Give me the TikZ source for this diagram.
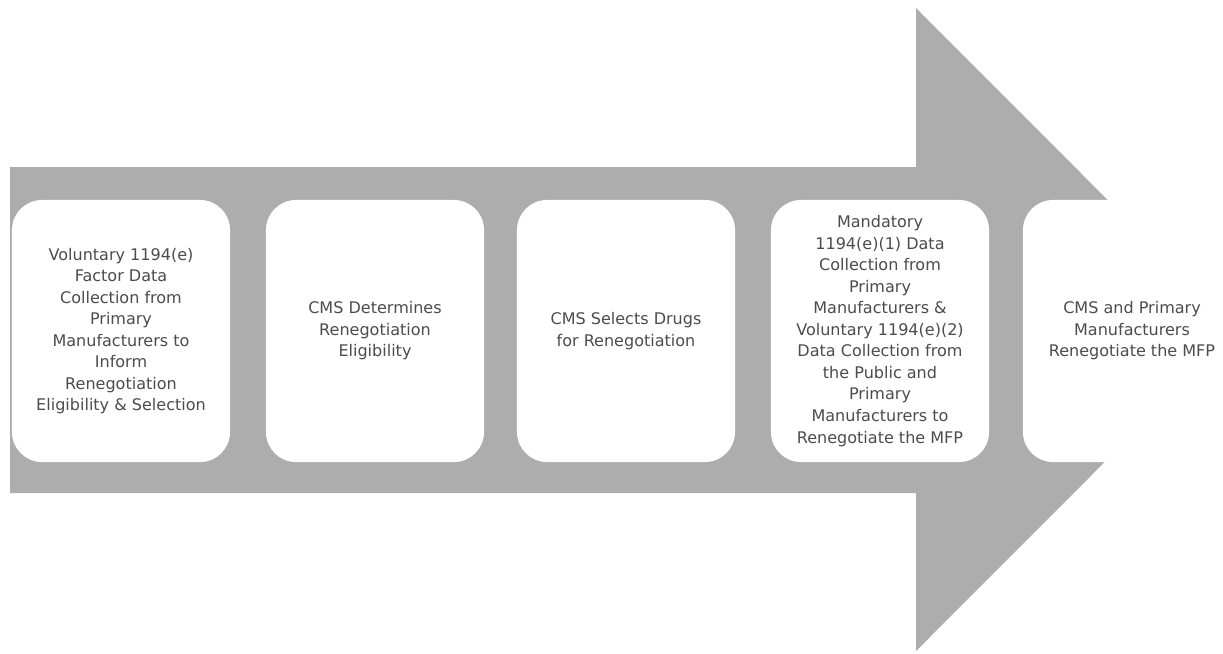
\documentclass[tikz,border=0pt]{standalone}
\usepackage{fontspec}
\setmainfont{DejaVu Sans}
\usepackage{tikz}

\begin{document}
\begin{tikzpicture}[x=0.025cm, y=-0.025cm,
    stagebox/.style={rectangle, rounded corners=0.75cm, fill=white, minimum width=5.45cm, minimum height=6.55cm, align=center, text=black!70, font=\fontsize{11.4}{15.3}\selectfont}]
                  % Frame
                  \path[use as bounding box, clip] (0,0) rectangle (1223,653);

                  % Arrow
                  \fill[black!32] (10,167) -- (916,167) -- (916,8) -- (1237,329.5) -- (916,651) -- (916,493) -- (10,493) -- cycle;

                  % Nodes
                  \foreach \i/\x/\txt in {
                    1/121/{Voluntary 1194(e)\\ Factor Data\\ Collection from\\ Primary\\ Manufacturers to\\ Inform\\ Renegotiation\\ Eligibility \& Selection},
                    2/375/{CMS Determines\\ Renegotiation\\ Eligibility},
                    3/626/{CMS Selects Drugs\\ for Renegotiation},
                    4/880/{Mandatory\\ 1194(e)(1) Data\\ Collection from\\ Primary\\ Manufacturers \&\\ Voluntary 1194(e)(2)\\ Data Collection from\\ the Public and\\ Primary\\ Manufacturers to\\ Renegotiate the MFP},
                    5/1132/{CMS and Primary\\ Manufacturers\\ Renegotiate the MFP}}
                  \node[stagebox] (stage\i) at (\x,331) {\txt};
              \end{tikzpicture}
\end{document}
